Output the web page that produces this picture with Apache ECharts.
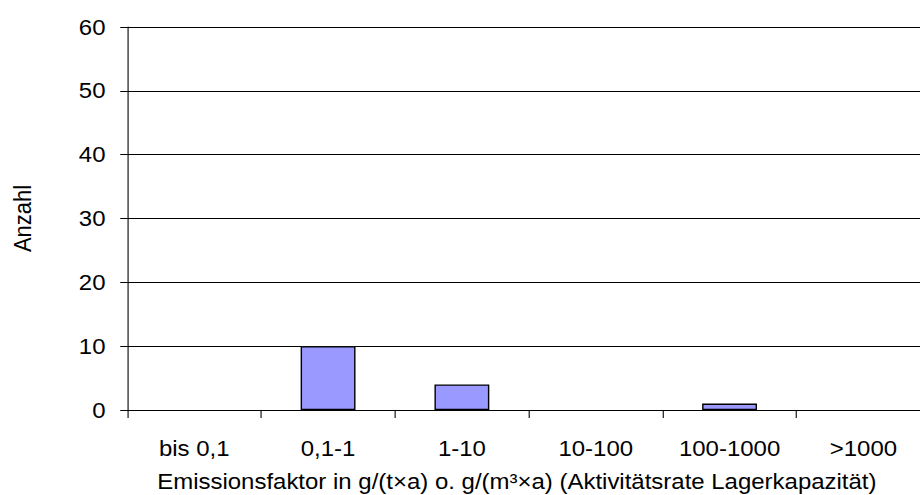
<!DOCTYPE html>
<html>
<head>
<meta charset="utf-8">
<script src="https://cdn.jsdelivr.net/npm/echarts@6/dist/echarts.min.js"></script>
<style>
html,body{margin:0;padding:0;background:#fff;overflow:hidden;width:920px;height:495px;}
#main{width:844px;height:495px;transform:scaleX(1.09);transform-origin:0 0;}
</style>
</head>
<body>
<div id="main"></div>
<script>
const categories = ['bis 0,1', '0,1-1', '1-10', '10-100', '100-1000', '>1000'];
const counts = [0, 10, 4, 0, 1, 0];
const yTicks = [0, 10, 20, 30, 40, 50, 60];
const xTitle = 'Emissionsfaktor in g/(t×a) o. g/(m³×a) (Aktivitätsrate Lagerkapazität)';
const yTitle = 'Anzahl';

const FONT = "'Liberation Sans', Arial, sans-serif";
const FS = 22;
const barData = counts.map(v => v === 0 ? {value: v, itemStyle: {opacity: 0}} : v);
const chart = echarts.init(document.getElementById('main'), null, {renderer: 'svg'});
chart.setOption({
  animation: false,
  backgroundColor: '#fff',
  grid: {left: 116.8, top: 27, width: 736.7, height: 383, containLabel: false, outerBoundsMode: 'none'},
  xAxis: {
    type: 'category',
    data: categories,
    boundaryGap: true,
    axisLine: {show: true, lineStyle: {color: '#000', width: 1}},
    axisTick: {show: true, length: 8, inside: false, lineStyle: {color: '#000'}},
    axisLabel: {color: '#000', fontSize: FS, fontFamily: FONT, margin: 27, interval: 0},
    splitLine: {show: false},
    name: xTitle,
    nameLocation: 'middle',
    nameGap: 60,
    nameTextStyle: {color: '#000', fontSize: FS, fontFamily: FONT, padding: [0, 22, 0, 0]}
  },
  yAxis: {
    type: 'value',
    min: yTicks[0],
    max: yTicks[yTicks.length - 1],
    interval: 10,
    axisLine: {show: true, lineStyle: {color: '#000', width: 1}},
    axisTick: {show: true, length: 6.5, lineStyle: {color: '#000'}},
    axisLabel: {color: '#000', fontSize: FS, fontFamily: FONT, margin: 20},
    splitLine: {show: true, lineStyle: {color: '#000', width: 1}},
    name: yTitle,
    nameLocation: 'middle',
    nameRotate: 90,
    nameGap: 85,
    nameTextStyle: {color: '#000', fontSize: FS, fontFamily: FONT}
  },
  series: [{
    type: 'bar',
    data: barData,
    barWidth: '41%',
    itemStyle: {color: '#9999FF', borderColor: '#000', borderWidth: 1.3}
  }]
});
</script>
</body>
</html>
